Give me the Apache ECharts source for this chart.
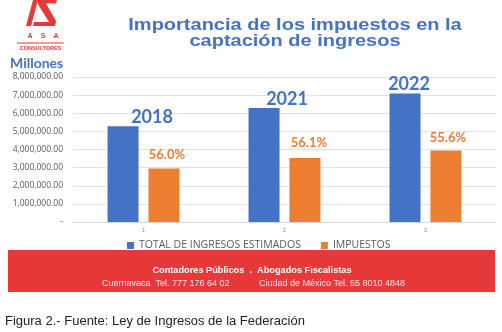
<!DOCTYPE html>
<html><head><meta charset="utf-8">
<script src="https://cdn.jsdelivr.net/npm/echarts@6/dist/echarts.min.js"></script>
<style>html,body{margin:0;padding:0;background:#fff}#c{width:502px;height:332px}</style>
</head><body><div id="c"></div>
<script>
const categories = ['1', '2', '3'];
const yearLabels = ['2018', '2021', '2022'];
const totalIngresos = [5279667.0, 6295736.2, 7088250.3];
const impuestos = [2957485.5, 3533031.1, 3944537.6];
const pctLabels = ['56.0%', '56.1%', '55.6%'];
const seriesNames = ['TOTAL DE INGRESOS ESTIMADOS', 'IMPUESTOS'];
const titleLines = ['Importancia de los impuestos en la', 'captación de ingresos'];

const yearOffsets = [[29, 0], [23, 0], [4, 0]];
const pctOffsets = [[3, 0], [4, -2], [2, 1]];

const chart = echarts.init(document.getElementById('c'), null, {renderer: 'canvas'});
const BLUE = '#4472C4', ORANGE = '#ED7D31', RED = '#E8393A';

chart.setOption({
  animation: false,
  backgroundColor: '#fff',
  grid: {left: 73, right: 6, top: 77, bottom: 110, containLabel: false},
  legend: {
    left: 122, top: 235, itemWidth: 7, itemHeight: 7, itemGap: 20,
    icon: 'rect',
    textStyle: {color: '#595959', fontSize: 10.5, fontFamily: 'Open Sans'},
    data: seriesNames
  },
  xAxis: {
    type: 'category', data: categories,
    axisLine: {show: true, lineStyle: {color: '#d9d9d9'}},
    axisTick: {show: false},
    axisLabel: {color: '#8c8c8c', fontSize: 6, margin: 5}
  },
  yAxis: {
    type: 'value', min: 0, max: 8000000, interval: 1000000,
    axisLine: {show: false}, axisTick: {show: false},
    splitLine: {lineStyle: {color: '#e3e3e3'}},
    axisLabel: {
      color: '#595959', fontSize: 8.5, fontFamily: 'Open Sans', margin: 10,
      formatter: v => v === 0 ? '-' : v.toLocaleString('en-US', {minimumFractionDigits: 2, maximumFractionDigits: 2})
    }
  },
  series: [
    {
      name: seriesNames[0], type: 'bar', barWidth: 31, barGap: '32%',
      itemStyle: {color: BLUE},
      data: totalIngresos.map((v, i) => ({
        value: v,
        label: {show: true, position: 'top', distance: 0, offset: yearOffsets[i],
          formatter: yearLabels[i], color: BLUE, fontSize: 18, fontWeight: 'bold', fontFamily: 'Lato'}
      }))
    },
    {
      name: seriesNames[1], type: 'bar', barWidth: 31,
      itemStyle: {color: ORANGE},
      data: impuestos.map((v, i) => ({
        value: v,
        label: {show: true, position: 'top', distance: 7, offset: pctOffsets[i],
          formatter: pctLabels[i], color: ORANGE, fontSize: 13, fontWeight: 'bold', fontFamily: 'Lato'}
      }))
    }
  ],
  graphic: [
    {type: 'text', x: 295, y: 17, scaleY: 0.8, style: {text: titleLines[0] + '\n' + titleLines[1],
      fill: BLUE, font: 'bold 20px "Liberation Sans", Arial', textAlign: 'center', lineHeight: 20.5}},
    // logo
    {type: 'polygon', shape: {points: [[33,0],[38,0],[31,26],[26,26]]}, style: {fill: RED}},
    {type: 'polygon', shape: {points: [[37,0],[57,0],[56,3.5],[46,3.5],[56,21],[55,26],[33,26],[34,22],[49,22],[39,6]]}, style: {fill: RED}},
    {type: 'text', x: 30, y: 33, style: {text: 'A', fill: RED, font: 'bold 7px "Liberation Sans"', textAlign: 'center'}},
    {type: 'text', x: 43, y: 33, style: {text: 'S', fill: RED, font: 'bold 7px "Liberation Sans"', textAlign: 'center'}},
    {type: 'text', x: 56, y: 33, style: {text: 'A', fill: RED, font: 'bold 7px "Liberation Sans"', textAlign: 'center'}},
    {type: 'rect', shape: {x: 17, y: 42.5, width: 47, height: 1}, style: {fill: RED}},
    {type: 'text', x: 40.5, y: 45, style: {text: 'CONSULTORES', fill: RED, font: 'bold 5.5px "Liberation Sans"', textAlign: 'center'}},
    {type: 'text', x: 10, y: 56, style: {text: 'Millones', fill: BLUE, font: 'bold 14px Lato'}},
    // banner
    {type: 'rect', shape: {x: 8, y: 250, width: 487, height: 42}, style: {fill: RED}},
    {type: 'text', x: 252, y: 266, style: {text: 'Contadores Públicos  .  Abogados Fiscalistas', fill: '#fff',
      font: 'bold 9.2px "Liberation Sans"', textAlign: 'center'}},
    {type: 'text', x: 102, y: 279, style: {text: 'Cuernavaca  Tel. 777 176 64 02', fill: '#fde4e4', font: '9px "Liberation Sans"'}},
    {type: 'text', x: 259, y: 279, style: {text: 'Ciudad de México Tel. 55 8010 4848', fill: '#fde4e4', font: '9px "Liberation Sans"'}},
    // caption
    {type: 'text', x: 5, y: 315, style: {text: 'Figura 2.- Fuente: Ley de Ingresos de la Federación', fill: '#222',
      font: '13px "Liberation Sans"'}}
  ]
});
</script></body></html>
